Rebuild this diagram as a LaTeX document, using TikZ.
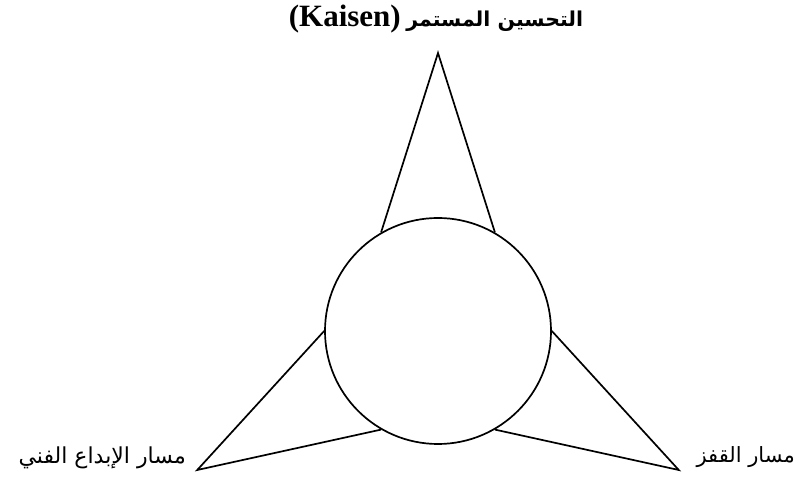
\documentclass[tikz,border=0pt]{standalone}
\usepackage{fontspec}
\usetikzlibrary{calc}
\setmainfont{Liberation Serif}
\newfontfamily\arabicfont[Script=Arabic]{DejaVu Sans}
\TeXXeTstate=1
\begin{document}
\begin{tikzpicture}[x=1pt,y=1pt,
  edge/.style={line width=1.7pt,line join=miter},
  lbl/.style={inner sep=0pt,font=\fontsize{22}{26}\selectfont}]
\useasboundingbox (0,0) rectangle (798,482);
\node[edge,draw,circle,minimum size=226pt,inner sep=0pt] (c) at (438,151) {};
\coordinate (tA) at ($(c.center)+(90:278)$);
\coordinate (lA) at ($(c.center)+(210:278)$);
\coordinate (rA) at ($(c.center)+(330:278)$);
\draw[edge] (c.120) -- (tA) -- (c.60);
\draw[edge] (c.180) -- (lA) -- (c.240);
\draw[edge] (c.0) -- (rA) -- (c.300);
\node[lbl] (tl) at (436,463) {{\fontsize{31}{34}\selectfont\bfseries (Kaisen)} {\arabicfont\fontsize{20.5}{24}\selectfont\bfseries\beginR التحسين المستمر\endR}};
\node[lbl,anchor=east] (ll) at (186,24) {\arabicfont\beginR مسار الإبداع الفني\endR};
\node[lbl,anchor=east] (rl) at (795,25) {\arabicfont\fontsize{21}{24}\selectfont\beginR مسار القفز\endR};
\end{tikzpicture}
\end{document}
